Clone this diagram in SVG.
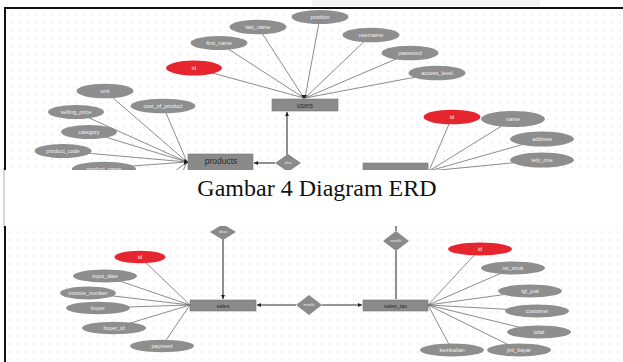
<svg xmlns="http://www.w3.org/2000/svg" width="623" height="362" viewBox="0 0 623 362">
<style>
.at{fill:#8e8e8e}
.pk{fill:#e6262f}
.en{fill:#8a8a8a;stroke:#757575;stroke-width:0.6}
.rl{fill:#8a8a8a}
.al{stroke:#6e6e6e;stroke-width:0.8;fill:none}
.ln{stroke:#333;stroke-width:1.1;fill:none}
.lt{font-family:"Liberation Sans",Arial,sans-serif;font-size:5.5px;fill:#f2f2f2;text-anchor:middle;dominant-baseline:central}
.et{font-family:"Liberation Sans",Arial,sans-serif;fill:#2a2a2a;text-anchor:middle;dominant-baseline:central}
.dt{font-family:"Liberation Sans",Arial,sans-serif;font-size:3px;fill:#eee;text-anchor:middle;dominant-baseline:central}
</style>
<defs>
<pattern id="dotsA" x="8" y="11" width="8" height="8" patternUnits="userSpaceOnUse"><circle cx="4" cy="4" r="0.7" fill="#d9d9d9"/></pattern>
<pattern id="dotsB" x="6" y="228" width="8" height="8" patternUnits="userSpaceOnUse"><circle cx="4" cy="4" r="0.7" fill="#d9d9d9"/></pattern>
<clipPath id="cTop"><rect x="5" y="8" width="618" height="162"/></clipPath>
<clipPath id="cBot"><rect x="5" y="226" width="618" height="136"/></clipPath>
<marker id="arr" viewBox="0 0 6 6" refX="6" refY="3" markerWidth="4" markerHeight="4" orient="auto"><path d="M0,0 L6,3 L0,6 z" fill="#222"/></marker>
</defs>
<rect width="623" height="362" fill="#fff"/>
<rect x="312" y="0" width="228" height="6" fill="#f3f3f3"/>
<line x1="4" y1="168" x2="4" y2="228" stroke="#9a9a9a" stroke-width="0.8"/>

<g id="top-image" clip-path="url(#cTop)">
<rect x="5" y="8" width="618" height="162" fill="url(#dotsA)"/>
<g id="top-connectors">
<line class="al" x1="194" y1="68" x2="304" y2="98"/>
<line class="al" x1="219" y1="43" x2="304" y2="98"/>
<line class="al" x1="258" y1="27" x2="304" y2="98"/>
<line class="al" x1="320" y1="17" x2="305" y2="98"/>
<line class="al" x1="371" y1="35" x2="305" y2="98"/>
<line class="al" x1="410" y1="53" x2="305" y2="98"/>
<line class="al" x1="437" y1="73" x2="305" y2="98"/>
<line class="al" x1="105" y1="91" x2="187" y2="162"/>
<line class="al" x1="163" y1="106" x2="187" y2="162"/>
<line class="al" x1="76" y1="112" x2="187" y2="162"/>
<line class="al" x1="89" y1="132" x2="187" y2="162"/>
<line class="al" x1="63" y1="151" x2="187" y2="162"/>
<line class="al" x1="104" y1="168" x2="187" y2="162"/>
<line class="al" x1="150" y1="190" x2="187" y2="162"/>
<line class="al" x1="170" y1="200" x2="187" y2="162"/>
<line class="al" x1="452" y1="117" x2="429" y2="171"/>
<line class="al" x1="513" y1="119" x2="429" y2="171"/>
<line class="al" x1="542" y1="139" x2="429" y2="171"/>
<line class="al" x1="542" y1="160" x2="429" y2="171"/>
<path d="M301,95 L307,95 L304,99 z" fill="#222"/>
<path d="M184,159 L189,162 L184,165 z" fill="#222"/>
<line class="ln" x1="275" y1="163" x2="254" y2="163" marker-end="url(#arr)"/>
<line class="ln" x1="287" y1="155" x2="287" y2="112" marker-end="url(#arr)"/>
</g>
<g id="n-users"><rect class="en" x="272" y="99" width="66" height="12"/><text class="et" x="305" y="105.5" font-size="6.5">users</text></g>
<g id="n-products"><rect class="en" x="188" y="154" width="65" height="20"/><text class="et" x="221" y="161" font-size="8.5">products</text></g>
<g id="n-customers"><rect class="en" x="363" y="163" width="65" height="12"/></g>
<g id="r-top"><path class="rl" d="M288,154 L301,163 L288,172 L275,163 z"/><text class="dt" x="288" y="163">relasi</text></g>
<g id="a-users-id"><ellipse class="pk" cx="194" cy="68" rx="28" ry="7.5"/><text class="lt" x="194" y="68">id</text></g>
<g id="a-first_name"><ellipse class="at" cx="219" cy="43" rx="28.5" ry="7"/><text class="lt" x="219" y="43">first_name</text></g>
<g id="a-last_name"><ellipse class="at" cx="258" cy="27" rx="28.5" ry="7.3"/><text class="lt" x="258" y="27">last_name</text></g>
<g id="a-position"><ellipse class="at" cx="320" cy="17" rx="28.5" ry="7"/><text class="lt" x="320" y="17">position</text></g>
<g id="a-username"><ellipse class="at" cx="371" cy="35" rx="28.5" ry="7.3"/><text class="lt" x="371" y="35">username</text></g>
<g id="a-password"><ellipse class="at" cx="410" cy="53" rx="28.5" ry="7.3"/><text class="lt" x="410" y="53">password</text></g>
<g id="a-access_level"><ellipse class="at" cx="437" cy="73" rx="28.5" ry="7.3"/><text class="lt" x="437" y="73">access_level</text></g>
<g id="a-unit"><ellipse class="at" cx="105" cy="91" rx="28.5" ry="7.3"/><text class="lt" x="105" y="91">unit</text></g>
<g id="a-cost_of_product"><ellipse class="at" cx="163" cy="106" rx="32.5" ry="7.3"/><text class="lt" x="163" y="106">cost_of_product</text></g>
<g id="a-selling_price"><ellipse class="at" cx="76" cy="112" rx="28" ry="7"/><text class="lt" x="76" y="112">selling_price</text></g>
<g id="a-category"><ellipse class="at" cx="89" cy="132" rx="28" ry="7"/><text class="lt" x="89" y="132">category</text></g>
<g id="a-product_code"><ellipse class="at" cx="63" cy="151" rx="28.5" ry="7"/><text class="lt" x="63" y="151">product_code</text></g>
<g id="a-product_name"><ellipse class="at" cx="104" cy="169" rx="32" ry="7.3"/><text class="lt" x="104" y="169">product_name</text></g>
<g id="a-cust-id"><ellipse class="pk" cx="452" cy="117" rx="28.5" ry="7.3"/><text class="lt" x="452" y="117">id</text></g>
<g id="a-name"><ellipse class="at" cx="513" cy="119" rx="32" ry="8"/><text class="lt" x="513" y="119">name</text></g>
<g id="a-address"><ellipse class="at" cx="542" cy="139" rx="32" ry="7.5"/><text class="lt" x="542" y="139">address</text></g>
<g id="a-telp_one"><ellipse class="at" cx="542" cy="160" rx="32" ry="7.5"/><text class="lt" x="542" y="160">telp_one</text></g>
</g>
<line x1="5" y1="8" x2="623" y2="8" stroke="#111" stroke-width="2"/>
<line x1="5" y1="7" x2="5" y2="170" stroke="#111" stroke-width="2"/>

<text id="caption" x="317" y="196" font-family="'Liberation Serif','Times New Roman',serif" font-size="24" fill="#111" text-anchor="middle">Gambar 4 Diagram ERD</text>

<g id="bottom-image" clip-path="url(#cBot)">
<rect x="5" y="226" width="618" height="136" fill="url(#dotsB)"/>
<g id="bottom-connectors">
<line class="al" x1="140" y1="257" x2="190" y2="305"/>
<line class="al" x1="105" y1="276" x2="190" y2="305"/>
<line class="al" x1="88" y1="293" x2="190" y2="305"/>
<line class="al" x1="98" y1="308" x2="190" y2="305"/>
<line class="al" x1="114" y1="328" x2="190" y2="305"/>
<line class="al" x1="162" y1="346" x2="190" y2="305"/>
<line class="al" x1="480" y1="249" x2="428" y2="305"/>
<line class="al" x1="513" y1="268" x2="428" y2="305"/>
<line class="al" x1="530" y1="291" x2="428" y2="305"/>
<line class="al" x1="537" y1="311" x2="428" y2="305"/>
<line class="al" x1="539" y1="332" x2="428" y2="305"/>
<line class="al" x1="452" y1="350" x2="428" y2="305"/>
<line class="al" x1="519" y1="350" x2="428" y2="305"/>
<line class="ln" x1="223" y1="239" x2="223" y2="299" marker-end="url(#arr)"/>
<line class="ln" x1="296" y1="305" x2="257" y2="305" marker-end="url(#arr)"/>
<line class="ln" x1="322" y1="305" x2="362" y2="305" marker-end="url(#arr)"/>
<line class="ln" x1="396" y1="220" x2="396" y2="231"/>
<line class="ln" x1="396" y1="251" x2="396" y2="299"/>
</g>
<g id="n-sales"><rect class="en" x="190" y="300" width="66" height="11"/><text class="et" x="223" y="305.5" font-size="5.5">sales</text></g>
<g id="n-sales_tax"><rect class="en" x="363" y="300" width="65" height="11"/><text class="et" x="395.5" y="305.5" font-size="5.5">sales_tax</text></g>
<g id="r-sales-top"><path class="rl" d="M223,224 L236,232 L223,240 L210,232 z"/><text class="dt" x="223" y="232">dibuat</text></g>
<g id="r-sales-mid"><path class="rl" d="M309,295 L322,305 L309,315 L296,305 z"/><text class="dt" x="309" y="305">memiliki</text></g>
<g id="r-tax-top"><path class="rl" d="M396,231 L409,241 L396,251 L383,241 z"/><text class="dt" x="396" y="241">memiliki</text></g>
<g id="a-sales-id"><ellipse class="pk" cx="140" cy="257" rx="25.5" ry="6.3"/><text class="lt" x="140" y="257">id</text></g>
<g id="a-input_date"><ellipse class="at" cx="105" cy="276" rx="32" ry="6.5"/><text class="lt" x="105" y="276">input_date</text></g>
<g id="a-invoice_number"><ellipse class="at" cx="88" cy="293" rx="28" ry="6.5"/><text class="lt" x="88" y="293">invoice_number</text></g>
<g id="a-buyer"><ellipse class="at" cx="98" cy="308" rx="32" ry="6.3"/><text class="lt" x="98" y="308">buyer</text></g>
<g id="a-buyer_id"><ellipse class="at" cx="114" cy="328" rx="32" ry="6.3"/><text class="lt" x="114" y="328">buyer_id</text></g>
<g id="a-payment"><ellipse class="at" cx="162" cy="346" rx="32" ry="6.3"/><text class="lt" x="162" y="346">payment</text></g>
<g id="a-tax-id"><ellipse class="pk" cx="480" cy="249" rx="32" ry="6.5"/><text class="lt" x="480" y="249">id</text></g>
<g id="a-no_struk"><ellipse class="at" cx="513" cy="268" rx="32" ry="6.5"/><text class="lt" x="513" y="268">no_struk</text></g>
<g id="a-tgl_jual"><ellipse class="at" cx="530" cy="291" rx="32" ry="6.5"/><text class="lt" x="530" y="291">tgl_jual</text></g>
<g id="a-customer"><ellipse class="at" cx="537" cy="311" rx="32" ry="6.5"/><text class="lt" x="537" y="311">customer</text></g>
<g id="a-total"><ellipse class="at" cx="539" cy="332" rx="32" ry="6.5"/><text class="lt" x="539" y="332">total</text></g>
<g id="a-kembalian"><ellipse class="at" cx="452" cy="350" rx="32" ry="6.5"/><text class="lt" x="452" y="350">kembalian</text></g>
<g id="a-jml_bayar"><ellipse class="at" cx="519" cy="350" rx="32" ry="6.5"/><text class="lt" x="519" y="350">jml_bayar</text></g>
</g>
<line x1="5" y1="226" x2="5" y2="362" stroke="#111" stroke-width="2"/>
</svg>
